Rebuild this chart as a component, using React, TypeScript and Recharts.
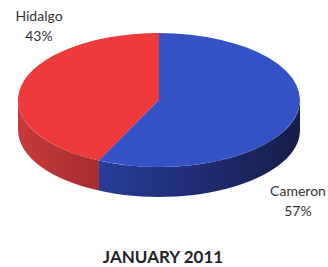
import { PieChart, Pie, Cell } from 'recharts'

const counties = ['Hidalgo', 'Cameron']
const shares = [43, 57]
const topColors = ['#ee3a3a', '#3551c6']
const sideColors = ['url(#sideRed)', 'url(#sideBlue)']
const labelSpots = [
  { x: 39, y: 21 },
  { x: 298, y: 196 },
]

const chartData = counties.map((name, i) => ({ name, value: shares[i] }))

const TILT = 0.475
const DEPTH = 30

function pt(cx: number, cy: number, rx: number, ry: number, deg: number, dy = 0) {
  const r = (deg * Math.PI) / 180
  return [cx + rx * Math.cos(r), cy - ry * Math.sin(r) + dy]
}

function Slice3D(props: any) {
  const { cx, cy, outerRadius, startAngle, endAngle, fill, index } = props
  const rx = outerRadius
  const ry = outerRadius * TILT
  const s = Math.min(startAngle, endAngle)
  const e = Math.max(startAngle, endAngle)
  const a = pt(cx, cy, rx, ry, s)
  const b = pt(cx, cy, rx, ry, e)
  const large = e - s > 180 ? 1 : 0
  const top = `M${cx},${cy} L${a[0]},${a[1]} A${rx},${ry} 0 ${large} 0 ${b[0]},${b[1]} Z`

  const walls: string[] = []
  for (const base of [180, 540]) {
    const lo = Math.max(s, base)
    const hi = Math.min(e, base + 180)
    if (hi > lo) {
      const p1 = pt(cx, cy, rx, ry, lo)
      const p2 = pt(cx, cy, rx, ry, hi)
      const q2 = pt(cx, cy, rx, ry, hi, DEPTH)
      const q1 = pt(cx, cy, rx, ry, lo, DEPTH)
      walls.push(
        `M${p1[0]},${p1[1]} A${rx},${ry} 0 0 0 ${p2[0]},${p2[1]} L${q2[0]},${q2[1]} A${rx},${ry} 0 0 1 ${q1[0]},${q1[1]} Z`
      )
    }
  }

  return (
    <g>
      {walls.map((d, k) => (
        <path key={k} d={d} fill={sideColors[index]} stroke="none" />
      ))}
      <path d={top} fill={fill} stroke="none" />
    </g>
  )
}

function SliceLabel(props: any) {
  const { index, name, value } = props
  const spot = labelSpots[index]
  return (
    <text
      x={spot.x}
      y={spot.y}
      textAnchor="middle"
      fontFamily="Lato, sans-serif"
      fontSize={14}
      fill="#333"
    >
      <tspan x={spot.x} dy={0}>{name}</tspan>
      <tspan x={spot.x} dy={20}>{value}%</tspan>
    </text>
  )
}

export default function App() {
  return (
    <div style={{ position: 'absolute', left: 0, top: 0, width: 328, height: 267, background: '#fff' }}>
      <PieChart width={328} height={267} margin={{ top: 0, right: 0, bottom: 0, left: 0 }}>
        <defs>
          <linearGradient id="sideRed" x1="0" y1="0" x2="1" y2="0">
            <stop offset="0%" stopColor="#c83a3a" />
            <stop offset="100%" stopColor="#a52c30" />
          </linearGradient>
          <linearGradient id="sideBlue" x1="0" y1="0" x2="1" y2="0">
            <stop offset="0%" stopColor="#283c9a" />
            <stop offset="100%" stopColor="#151d48" />
          </linearGradient>
        </defs>
        <Pie
          data={chartData}
          dataKey="value"
          nameKey="name"
          cx={159}
          cy={100}
          outerRadius={141}
          startAngle={90}
          endAngle={450}
          stroke="none"
          shape={Slice3D}
          label={SliceLabel}
          labelLine={false}
          isAnimationActive={false}
        >
          {chartData.map((d, i) => (
            <Cell key={d.name} fill={topColors[i]} />
          ))}
        </Pie>
        <text
          x={163}
          y={263}
          textAnchor="middle"
          fontFamily="Lato, sans-serif"
          fontWeight="bold"
          fontSize={17}
          fill="#222"
        >
          JANUARY 2011
        </text>
      </PieChart>
    </div>
  )
}
